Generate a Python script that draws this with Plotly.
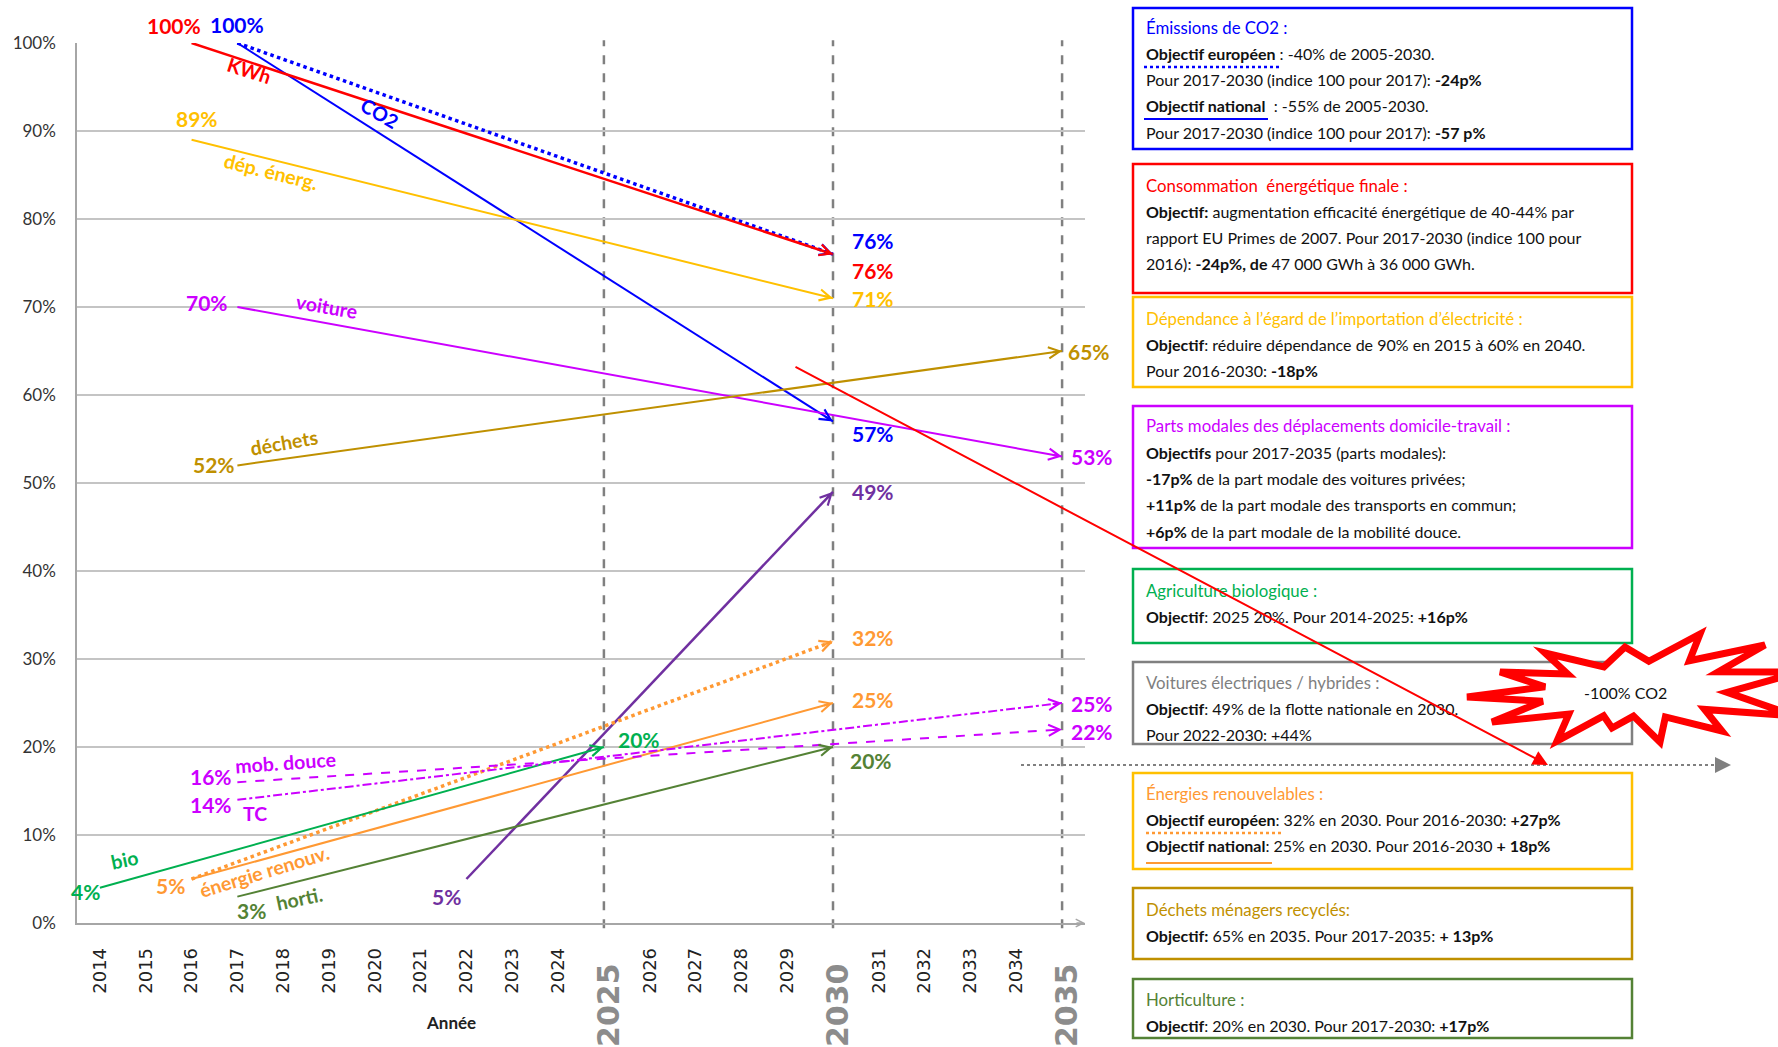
import math
import plotly.graph_objects as go

# ------------------------------------------------------------------ data
series_names = ["CO2 national", "CO2 européen", "KWh", "dép. énerg.", "voiture", "déchets",
                "voitures électriques", "renouv. européen", "renouv. national", "bio", "horti.",
                "mob. douce", "TC"]
start_years = [2017, 2017, 2016, 2016, 2017, 2017, 2022, 2016, 2016, 2014, 2017, 2017, 2017]
start_values = [100, 100, 100, 89, 70, 52, 5, 5, 5, 4, 3, 16, 14]
end_years = [2030, 2030, 2030, 2030, 2035, 2035, 2030, 2030, 2030, 2025, 2030, 2035, 2035]
end_values = [57, 76, 76, 71, 53, 65, 49, 32, 25, 20, 20, 22, 25]
line_labels = ["CO2", None, "KWh", "dép. énerg.", "voiture", "déchets", None, None,
               "énergie renouv.", "bio", "horti.", "mob. douce", "TC"]
show_start_value = [True, False, True, True, True, True, True, False, True, True, True, True, True]

years = list(range(2014, 2036))
milestone_years = [2025, 2030, 2035]
y_ticks = [0, 10, 20, 30, 40, 50, 60, 70, 80, 90, 100]

box_titles = ["Émissions de CO2 :", "Consommation  énergétique finale :",
              "Dépendance à l’égard de l’importation d’électricité :",
              "Parts modales des déplacements domicile-travail :", "Agriculture biologique :",
              "Voitures électriques / hybrides :", "Énergies renouvelables :",
              "Déchets ménagers recyclés:", "Horticulture :"]
box_lines = [
    ["<b>Objectif européen</b> : -40% de 2005-2030.",
     "Pour 2017-2030 (indice 100 pour 2017): <b>-24p%</b>",
     "<b>Objectif national</b>  : -55% de 2005-2030.",
     "Pour 2017-2030 (indice 100 pour 2017): <b>-57 p%</b>"],
    ["<b>Objectif:</b> augmentation efficacité énergétique de 40-44% par",
     "rapport EU Primes de 2007. Pour 2017-2030 (indice 100 pour",
     "2016): <b>-24p%, de</b> 47 000 GWh à 36 000 GWh."],
    ["<b>Objectif</b>: réduire dépendance de 90% en 2015 à 60% en 2040.",
     "Pour 2016-2030: <b>-18p%</b>"],
    ["<b>Objectifs</b> pour 2017-2035 (parts modales):",
     "<b>-17p%</b> de la part modale des voitures privées;",
     "<b>+11p%</b> de la part modale des transports en commun;",
     "<b>+6p%</b> de la part modale de la mobilité douce."],
    ["<b>Objectif</b>: 2025 20%. Pour 2014-2025: <b>+16p%</b>"],
    ["<b>Objectif</b>: 49% de la flotte nationale en 2030.",
     "Pour 2022-2030: +44%"],
    ["<b>Objectif européen</b>: 32% en 2030. Pour 2016-2030: <b>+27p%</b>",
     "<b>Objectif national</b>: 25% en 2030. Pour 2016-2030 <b>+ 18p%</b>"],
    ["<b>Objectif:</b> 65% en 2035. Pour 2017-2035: <b>+ 13p%</b>"],
    ["<b>Objectif</b>: 20% en 2030. Pour 2017-2030: <b>+17p%</b>"],
]
star_text = "-100% CO2"
x_title = "Année"

# ------------------------------------------------------------------ styles
BLUE, RED, GOLD, MAG, DGOLD = "#0000FF", "#FF0000", "#FFC000", "#CC00FF", "#BF9000"
PURP, ORANGE, GREEN, OLIVE, GRAY = "#7030A0", "#FF9933", "#00B050", "#548235", "#7F7F7F"
colors = [BLUE, BLUE, RED, GOLD, MAG, DGOLD, PURP, ORANGE, ORANGE, GREEN, OLIVE, MAG, MAG]
dashes = ["solid", "dot", "solid", "solid", "solid", "solid", "solid", "dot", "solid",
          "solid", "solid", "dash", "dashdot"]
widths = [2, 3.5, 2.5, 2, 2, 2, 2.5, 3.5, 2, 2, 2, 2, 2]
end_label_shift = [(17, -12), (17, 14), (17, -16), (17, 0), (7, 0), (4, 0), (17, 0),
                   (17, 4), (17, 4), (12, 8), (15, -13), (7, -2), (7, 0)]
start_label_shift = [(0, 19), None, (-18, 18), (5, 21), (-30, 5), (-23, 1), (-20, -17),
                     None, (-21, -6), (-14, -4), (14, -14), (-26, 6), (-26, -5)]
name_label_style = [(143, -70, 30), None, (58, -27, 18), (79, -32, 14), (90, 1, 10),
                    (47, 23, -10), None, None, (72, 8, -17), (25, 28, -12), (62, -2, -12),
                    (48, 20, -4), (18, -14, 0)]

box_colors = [BLUE, RED, GOLD, MAG, GREEN, "#808080", GOLD, DGOLD, OLIVE]
box_title_colors = [BLUE, RED, GOLD, MAG, GREEN, GRAY, ORANGE, DGOLD, OLIVE]
box_y = [(8, 149), (164, 293), (297, 387), (406, 548), (569, 643), (662, 744),
         (773, 869), (888, 959), (979, 1038)]
box_title_y = [27, 185, 318, 426, 590, 682, 793, 909, 999]
BOX_X0, BOX_X1, TEXT_X, LINE_H = 1133, 1632, 1144, 26.3

FONT = "Lato, 'Open Sans', sans-serif"
W, H = 1778, 1047
ML, MR, MT, MB = 77, 693, 43, 124
PW, PH = W - ML - MR, H - MT - MB
X_RANGE = [2013.5, 2035.5]
Y_RANGE = [0, 100]
PX_YEAR = PW / (X_RANGE[1] - X_RANGE[0])
PX_PCT = PH / (Y_RANGE[1] - Y_RANGE[0])


def px(x):
    return (x - ML) / PW


def py(y):
    return (H - MB - y) / PH


fig = go.Figure()
annotations = []
shapes = []

# milestone dashed verticals
for yr in milestone_years:
    shapes.append(dict(type="line", xref="x", yref="paper", x0=yr, x1=yr, y0=-0.006, y1=1.003,
                       line=dict(color="#808080", width=2.5, dash="dash"), layer="below"))

# series lines
for i, name in enumerate(series_names):
    x0, y0, x1, y1 = start_years[i], start_values[i], end_years[i], end_values[i]
    fig.add_trace(go.Scatter(x=[x0, x1], y=[y0, y1], mode="lines", name=name,
                             line=dict(color=colors[i], width=widths[i], dash=dashes[i]),
                             hoverinfo="skip", showlegend=False, cliponaxis=False))
    # arrow head
    dx = (x1 - x0) * PX_YEAR
    dy = (y1 - y0) * PX_PCT
    L = math.hypot(dx, dy)
    ux, uy = dx / L, dy / L
    annotations.append(dict(x=x1, y=y1, xref="x", yref="y", ax=-ux * 11, ay=uy * 11,
                            showarrow=True, arrowhead=5, arrowsize=1.1, arrowwidth=2,
                            arrowcolor=colors[i], text=""))
    # end value label
    sx, sy = end_label_shift[i]
    annotations.append(dict(x=x1, y=y1, xref="x", yref="y", text=f"<b>{y1}%</b>",
                            showarrow=False, xanchor="left", yanchor="middle",
                            xshift=sx, yshift=sy, font=dict(size=21, color=colors[i], family=FONT)))
    # start value label
    if show_start_value[i]:
        sx, sy = start_label_shift[i]
        annotations.append(dict(x=x0, y=y0, xref="x", yref="y", text=f"<b>{y0}%</b>",
                                showarrow=False, xanchor="center", yanchor="middle",
                                xshift=sx, yshift=sy,
                                font=dict(size=21, color=colors[i], family=FONT)))
    # name label
    if line_labels[i]:
        sx, sy, ang = name_label_style[i]
        annotations.append(dict(x=x0, y=y0, xref="x", yref="y", text=f"<b>{line_labels[i]}</b>",
                                showarrow=False, xanchor="center", yanchor="middle",
                                xshift=sx, yshift=sy, textangle=ang,
                                font=dict(size=19.5, color=colors[i], family=FONT)))

# big milestone year labels
for yr in milestone_years:
    annotations.append(dict(x=yr, y=py(961), xref="x", yref="paper", text=f"<b>{yr}</b>",
                            showarrow=False, textangle=-90, xanchor="center", yanchor="top",
                            xshift=4,
                            font=dict(size=30, color="#8C8C8C", family="DejaVu Sans")))

# x axis title
annotations.append(dict(x=px(451), y=py(1023), xref="paper", yref="paper",
                        text=f"<b>{x_title}</b>", showarrow=False, xanchor="center",
                        yanchor="middle", font=dict(size=17, color="#222", family=FONT)))

# x-axis arrow head
annotations.append(dict(x=px(1085), y=0, xref="paper", yref="paper", ax=-10, ay=0,
                        showarrow=True, arrowhead=5, arrowsize=1, arrowwidth=1.5,
                        arrowcolor="#A6A6A6", text=""))

# right-hand boxes
for b in range(len(box_titles)):
    y0b, y1b = box_y[b]
    shapes.append(dict(type="rect", xref="paper", yref="paper", x0=px(BOX_X0), x1=px(BOX_X1),
                       y0=py(y1b), y1=py(y0b), line=dict(color=box_colors[b], width=2.5),
                       fillcolor="rgba(0,0,0,0)"))
    annotations.append(dict(x=px(TEXT_X), y=py(box_title_y[b]), xref="paper", yref="paper",
                            text=box_titles[b], showarrow=False, xanchor="left",
                            yanchor="middle",
                            font=dict(size=16.8, color=box_title_colors[b], family=FONT)))
    for k, line in enumerate(box_lines[b]):
        annotations.append(dict(x=px(TEXT_X), y=py(box_title_y[b] + (k + 1) * LINE_H),
                                xref="paper", yref="paper", text=line, showarrow=False,
                                xanchor="left", yanchor="middle",
                                font=dict(size=16, color="#111", family=FONT)))

# underline markers (line-style keys)
shapes.append(dict(type="line", xref="paper", yref="paper", x0=px(1144), x1=px(1282),
                   y0=py(67), y1=py(67), line=dict(color=BLUE, width=2.5, dash="dot")))
shapes.append(dict(type="line", xref="paper", yref="paper", x0=px(1144), x1=px(1268),
                   y0=py(119), y1=py(119), line=dict(color=BLUE, width=2)))
shapes.append(dict(type="line", xref="paper", yref="paper", x0=px(1146), x1=px(1283),
                   y0=py(833), y1=py(833), line=dict(color=ORANGE, width=2.5, dash="dot")))
shapes.append(dict(type="line", xref="paper", yref="paper", x0=px(1146), x1=px(1272),
                   y0=py(863), y1=py(863), line=dict(color=ORANGE, width=2)))

# gray dotted horizontal arrow
shapes.append(dict(type="line", xref="paper", yref="paper", x0=px(1021), x1=px(1718),
                   y0=py(765), y1=py(765), line=dict(color="#808080", width=2, dash="dot")))
annotations.append(dict(x=px(1731), y=py(765), xref="paper", yref="paper", ax=-14, ay=0,
                        showarrow=True, arrowhead=2, arrowsize=1.6, arrowwidth=2,
                        arrowcolor="#808080", text=""))

# star burst
cx, cy = 1630, 690
outer = [(1467, 697), (1492, 722), (1557, 741), (1612, 728), (1660, 742), (1722, 731),
         (1795, 716), (1800, 672), (1765, 645), (1700, 634), (1625, 647), (1545, 653),
         (1500, 672)]
pts = []
n = len(outer)
for k in range(n):
    ox, oy = outer[k]
    nx, ny = outer[(k + 1) % n]
    mx, my = (ox + nx) / 2, (oy + ny) / 2
    pts.append((ox, oy))
    pts.append((cx + 0.58 * (mx - cx), cy + 0.58 * (my - cy)))
path = "M " + " L ".join(f"{px(a):.5f},{py(b):.5f}" for a, b in pts) + " Z"
shapes.append(dict(type="path", xref="paper", yref="paper", path=path,
                   fillcolor="white", line=dict(color=RED, width=7)))
annotations.append(dict(x=px(1625), y=py(692), xref="paper", yref="paper", text=star_text,
                        showarrow=False, xanchor="center", yanchor="middle",
                        font=dict(size=16, color="#111", family=FONT)))

# long red arrow
annotations.append(dict(x=px(1548), y=py(765), xref="paper", yref="paper",
                        ax=794 - 1548, ay=366 - 765, showarrow=True, arrowhead=2,
                        arrowsize=1.5, arrowwidth=2, arrowcolor=RED, text=""))

fig.update_layout(
    width=W, height=H, autosize=False,
    margin=dict(l=ML, r=MR, t=MT, b=MB, pad=0),
    paper_bgcolor="white", plot_bgcolor="white",
    font=dict(family=FONT, color="#333"),
    showlegend=False,
    xaxis=dict(range=X_RANGE, tickmode="array",
               tickvals=[y for y in years if y not in milestone_years],
               ticktext=[str(y) for y in years if y not in milestone_years],
               tickangle=-90, showgrid=False, zeroline=False, showline=True,
               linecolor="#A6A6A6", linewidth=1.5, ticks="", ticklabelstandoff=16,
               tickfont=dict(family="DejaVu Sans", size=18, color="#222")),
    yaxis=dict(range=Y_RANGE, tickmode="array", tickvals=y_ticks,
               ticktext=[f"{v}%" for v in y_ticks], showgrid=True, gridcolor="#C4C4C4",
               gridwidth=1.5, zeroline=False, showline=True, linecolor="#A6A6A6",
               linewidth=1.5, ticks="", ticklabelstandoff=16,
               tickfont=dict(family=FONT, size=17, color="#333")),
    annotations=annotations,
    shapes=shapes,
)

fig.write_html("out.html", config={"displayModeBar": False},
               post_script="document.body.style.margin='0';")
